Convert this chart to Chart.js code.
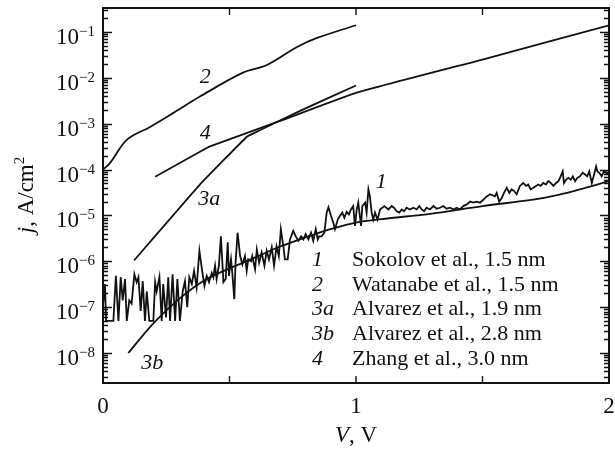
<!DOCTYPE html>
<html lang="en">
<head>
  <meta charset="UTF-8">
  <title>j(V) tunnel current</title>
  <script src="https://cdn.jsdelivr.net/npm/chart.js"></script>
  <style>
    body { margin: 0; background: #fff; }
    canvas { display: block; }
  </style>
</head>
<body>
  <canvas id="chart" width="615" height="450"></canvas>
  <script>
    // curve 1: Sokolov et al., 1.5 nm (noisy measurement)
    const sokolovV = [
      0.001, 0.008, 0.012, 0.041, 0.051, 0.061, 0.070, 0.078, 0.087, 0.094,
      0.104, 0.113, 0.124, 0.133, 0.140, 0.149, 0.157, 0.166, 0.173, 0.183,
      0.199, 0.206, 0.212, 0.223, 0.232, 0.238, 0.249, 0.258, 0.265, 0.275,
      0.285, 0.294, 0.304, 0.315, 0.324, 0.333, 0.341, 0.351, 0.360, 0.370,
      0.381, 0.393, 0.401, 0.410, 0.419, 0.430, 0.436, 0.443, 0.449, 0.458,
      0.466, 0.476, 0.485, 0.493, 0.498, 0.506, 0.511, 0.519, 0.524, 0.532,
      0.542, 0.551, 0.561, 0.568, 0.574, 0.585, 0.590, 0.601, 0.608, 0.617,
      0.627, 0.638, 0.647, 0.656, 0.667, 0.676, 0.686, 0.695, 0.703, 0.713,
      0.719, 0.730, 0.739, 0.752, 0.762, 0.772, 0.783, 0.792, 0.801, 0.812,
      0.822, 0.831, 0.841, 0.849, 0.854, 0.864, 0.875, 0.884, 0.891, 0.901,
      0.910, 0.917, 0.928, 0.937, 0.946, 0.954, 0.963, 0.972, 0.980, 0.989,
      0.996, 1.003, 1.009, 1.020, 1.025, 1.036, 1.042, 1.049, 1.055, 1.062,
      1.068, 1.075, 1.085, 1.095, 1.112, 1.128, 1.141, 1.150, 1.161, 1.171,
      1.181, 1.190, 1.200, 1.213, 1.227, 1.240, 1.250, 1.260, 1.269, 1.279,
      1.292, 1.306, 1.319, 1.332, 1.345, 1.358, 1.372, 1.385, 1.398, 1.411,
      1.424, 1.438, 1.451, 1.464, 1.477, 1.490, 1.503, 1.517, 1.530, 1.549,
      1.556, 1.566, 1.576, 1.585, 1.596, 1.606, 1.615, 1.625, 1.635, 1.648,
      1.661, 1.672, 1.681, 1.690, 1.701, 1.711, 1.721, 1.730, 1.740, 1.751,
      1.760, 1.770, 1.780, 1.791, 1.800, 1.809, 1.817, 1.822, 1.830, 1.839,
      1.849, 1.857, 1.866, 1.875, 1.885, 1.896, 1.905, 1.914, 1.922, 1.932,
      1.941, 1.949, 1.954, 1.962, 1.971, 1.980, 1.991, 1.997
    ];
    const sokolovJ = [
      1.2e-7, 3.2e-7, 5e-8, 5e-8, 4.8e-7, 5e-8, 4.5e-7, 1.4e-7, 4.1e-7, 5e-8,
      1.4e-7, 1.2e-7, 5.2e-7, 3.5e-7, 4.5e-7, 8.3e-8, 3.7e-7, 5e-8, 2.2e-7, 5e-8,
      5e-8, 3.5e-7, 2.2e-7, 4.5e-7, 5e-8, 3.2e-7, 6e-8, 4.5e-7, 5e-8, 5.2e-7,
      5e-8, 4.1e-7, 5e-8, 2.2e-7, 3.7e-7, 1e-7, 4.5e-7, 3.2e-7, 6.2e-7, 2.7e-7,
      1.7e-6, 5.6e-7, 2.9e-7, 4.8e-7, 3.5e-7, 5.6e-7, 4.5e-7, 8e-7, 4.1e-7, 8e-7,
      3.5e-6, 3.5e-7, 4.1e-7, 2.6e-6, 4.8e-7, 1.1e-6, 5.6e-7, 1.5e-7, 9.3e-7, 4.2e-6,
      1.3e-6, 8.5e-7, 1.3e-6, 6.2e-7, 1.1e-6, 1.0e-6, 1.3e-6, 6.7e-7, 1.8e-6, 9.3e-7,
      1.55e-6, 8e-7, 1.7e-6, 1.1e-6, 2e-6, 8e-7, 2.1e-6, 1.3e-6, 5e-6, 2.1e-6,
      1.1e-6, 1.1e-6, 3e-6, 4.6e-6, 3.5e-6, 2.8e-6, 3.5e-6, 3e-6, 3.9e-6, 3e-6,
      4.2e-6, 2.8e-6, 5e-6, 3e-6, 3.5e-6, 3.5e-6, 4.2e-6, 1.15e-5, 1.5e-5, 9.8e-6,
      7e-6, 5e-6, 8.1e-6, 9.8e-6, 1.15e-5, 8.9e-6, 1.2e-5, 1.05e-5, 1.35e-5, 1.6e-5,
      5.9e-6, 1.35e-5, 1.9e-5, 5.9e-6, 1.6e-5, 1.9e-5, 1.15e-5, 3.7e-5, 2.6e-5, 1.15e-5,
      8.1e-6, 1.15e-5, 8.1e-6, 1.35e-5, 1.6e-5, 1.35e-5, 1.6e-5, 1.47e-5, 1.23e-5, 1.15e-5,
      1.35e-5, 1.23e-5, 1.47e-5, 1.35e-5, 1.47e-5, 1.35e-5, 1.6e-5, 1.35e-5, 1.23e-5, 1.47e-5,
      1.35e-5, 1.6e-5, 1.4e-5, 1.47e-5, 1.6e-5, 1.4e-5, 1.47e-5, 1.35e-5, 1.47e-5, 1.35e-5,
      1.6e-5, 1.74e-5, 2.0e-5, 1.9e-5, 2.0e-5, 1.9e-5, 2.2e-5, 2.6e-5, 2.9e-5, 2.6e-5,
      3.1e-5, 2.0e-5, 2.4e-5, 3.1e-5, 4.0e-5, 3.1e-5, 3.7e-5, 3.4e-5, 2.9e-5, 4.4e-5,
      5.1e-5, 4.4e-5, 4.7e-5, 3.7e-5, 4.0e-5, 4.4e-5, 4.7e-5, 4.4e-5, 5.1e-5, 4.7e-5,
      5.6e-5, 5.1e-5, 4.4e-5, 5.1e-5, 5.6e-5, 7.1e-5, 9.1e-5, 5.1e-5, 6.0e-5, 6.6e-5,
      6.0e-5, 7.1e-5, 5.6e-5, 6.6e-5, 7.1e-5, 8.5e-5, 7.8e-5, 7.1e-5, 9.1e-5, 5.1e-5,
      7.8e-5, 1.17e-4, 9.1e-5, 8.5e-5, 7.1e-5, 9.1e-5, 8.5e-5, 7.8e-5
    ];

    // curve 2: Watanabe et al., 1.5 nm
    const watanabeV = [0, 0.028, 0.095, 0.186, 0.277, 0.383, 0.553, 0.648, 0.767, 0.846, 1.0];
    const watanabeJ = [1.0e-4, 1.4e-4, 4.5e-4, 8.5e-4, 1.7e-3, 3.9e-3, 1.3e-2, 1.9e-2, 4.7e-2, 7.4e-2, 1.4e-1];

    // curve 3a: Alvarez et al., 1.9 nm
    const alvarezAV = [0.123, 0.383, 0.569, 0.62, 0.779, 1.0];
    const alvarezAJ = [1.05e-6, 4.7e-5, 5.2e-4, 7.2e-4, 1.9e-3, 6.8e-3];

    // curve 3b: Alvarez et al., 2.8 nm
    const alvarezBV = [0.1, 0.2, 0.3, 0.4, 0.5, 0.6, 0.7, 0.8, 0.9, 1.0, 1.1, 1.3, 1.5, 1.7, 1.8, 1.9, 2.0];
    const alvarezBJ = [1.0e-8, 4.5e-8, 1.5e-7, 3.8e-7, 7e-7, 1.2e-6, 2.1e-6, 3.3e-6, 5e-6, 7e-6, 8.3e-6, 1.1e-5, 1.6e-5, 2.2e-5, 2.8e-5, 3.9e-5, 5.6e-5];

    // curve 4: Zhang et al., 3.0 nm
    const zhangV = [0.206, 0.383, 0.423, 0.7, 1.0, 1.5, 2.0];
    const zhangJ = [7e-5, 2.45e-4, 3.2e-4, 1.15e-3, 4.7e-3, 2.5e-2, 1.4e-1];

    const legendNums = ["1", "2", "3a", "3b", "4"];
    const legendText = [
      "Sokolov et al., 1.5 nm",
      "Watanabe et al., 1.5 nm",
      "Alvarez et al., 1.9 nm",
      "Alvarez et al., 2.8 nm",
      "Zhang et al., 3.0 nm"
    ];
    // curve labels placed at data coordinates [V, j]
    const curveLabels = [
      { text: "2", at: [0.404, 1.05e-2] },
      { text: "4", at: [0.404, 6.3e-4] },
      { text: "3a", at: [0.42, 2.2e-5] },
      { text: "1", at: [1.1, 5.4e-5] },
      { text: "3b", at: [0.195, 6.0e-9] }
    ];
    const xLabels = [0, 1, 2];

    const ink = "#111";
    const serif = '"Liberation Serif", "Times New Roman", serif';

    const pts = (vs, js) => vs.map((v, i) => ({ x: v, y: js[i] }));
    const line = (data, tension) => ({
      data, borderColor: ink, borderWidth: 1.8, pointRadius: 0, tension, fill: false
    });

    const decor = {
      id: "decor",
      afterDraw(chart) {
        const { ctx, chartArea: a, scales: { x, y } } = chart;
        ctx.save();
        ctx.strokeStyle = ink;
        ctx.fillStyle = ink;

        // frame
        ctx.lineWidth = 2;
        ctx.strokeRect(a.left, a.top, a.right - a.left, a.bottom - a.top);

        // inward ticks
        ctx.lineWidth = 1.4;
        ctx.beginPath();
        x.ticks.forEach(t => {
          if (t.value <= 0 || t.value >= 2) return;
          const px = x.getPixelForValue(t.value);
          ctx.moveTo(px, a.bottom); ctx.lineTo(px, a.bottom - 7);
          ctx.moveTo(px, a.top); ctx.lineTo(px, a.top + 7);
        });
        y.ticks.forEach(t => {
          const e = Math.floor(Math.log10(t.value) + 1e-9);
          const sig = t.value / Math.pow(10, e);
          if (Math.abs(sig - Math.round(sig)) > 1e-6) return;
          const len = Math.round(sig) === 1 ? 9 : 5;
          const py = Math.round(y.getPixelForValue(t.value)) + 0.5;
          ctx.moveTo(a.left, py); ctx.lineTo(a.left + len, py);
          ctx.moveTo(a.right, py); ctx.lineTo(a.right - len, py);
        });
        ctx.stroke();

        // y tick labels 10^-n
        ctx.textBaseline = "alphabetic";
        for (let n = 1; n <= 8; n++) {
          const py = y.getPixelForValue(Math.pow(10, -n));
          ctx.font = "15px " + serif;
          const sup = "\u2212" + n;
          const wSup = ctx.measureText(sup).width;
          ctx.textAlign = "left";
          ctx.fillText(sup, a.left - 8 - wSup, py + 4);
          ctx.font = "23px " + serif;
          ctx.textAlign = "right";
          ctx.fillText("10", a.left - 8 - wSup, py + 12);
        }

        // x tick labels
        ctx.font = "23px " + serif;
        ctx.textAlign = "center";
        xLabels.forEach(v => ctx.fillText(String(v), x.getPixelForValue(v), a.bottom + 30));

        // x title "V, V"
        const cx = (a.left + a.right) / 2;
        ctx.font = "italic 23px " + serif;
        const w1 = ctx.measureText("V").width;
        ctx.font = "23px " + serif;
        const w2 = ctx.measureText(", V").width;
        let sx = cx - (w1 + w2) / 2;
        ctx.textAlign = "left";
        ctx.font = "italic 23px " + serif;
        ctx.fillText("V", sx, 442);
        ctx.font = "23px " + serif;
        ctx.fillText(", V", sx + w1, 442);

        // y title "j, A/cm2"
        ctx.save();
        ctx.translate(33, 195);
        ctx.rotate(-Math.PI / 2);
        ctx.font = "italic 23px " + serif;
        const wj = ctx.measureText("j").width;
        ctx.font = "23px " + serif;
        const wu = ctx.measureText(", A/cm").width;
        ctx.font = "15px " + serif;
        const w2s = ctx.measureText("2").width;
        let tx = -(wj + wu + w2s) / 2;
        ctx.font = "italic 23px " + serif;
        ctx.fillText("j", tx, 0);
        ctx.font = "23px " + serif;
        ctx.fillText(", A/cm", tx + wj, 0);
        ctx.font = "15px " + serif;
        ctx.fillText("2", tx + wj + wu, -9);
        ctx.restore();

        // curve labels
        ctx.font = "italic 22px " + serif;
        ctx.textAlign = "center";
        ctx.textBaseline = "middle";
        curveLabels.forEach(l => {
          ctx.fillText(l.text, x.getPixelForValue(l.at[0]), y.getPixelForValue(l.at[1]));
        });

        // legend block
        ctx.textBaseline = "alphabetic";
        ctx.textAlign = "left";
        legendNums.forEach((num, i) => {
          const by = a.bottom - 117 + i * 24.7;
          ctx.font = "italic 22px " + serif;
          ctx.fillText(num, a.left + 209, by);
          ctx.font = "22px " + serif;
          ctx.fillText(legendText[i], a.left + 249, by);
        });

        ctx.restore();
      }
    };

    new Chart(document.getElementById("chart"), {
      type: "line",
      data: {
        datasets: [
          line(pts(sokolovV, sokolovJ), 0),
          line(pts(watanabeV, watanabeJ), 0.35),
          line(pts(alvarezAV, alvarezAJ), 0.1),
          line(pts(alvarezBV, alvarezBJ), 0.35),
          line(pts(zhangV, zhangJ), 0.1)
        ]
      },
      options: {
        responsive: false,
        animation: false,
        devicePixelRatio: 1,
        layout: { padding: { left: 103, top: 8, right: 6, bottom: 67 } },
        plugins: { legend: { display: false }, tooltip: { enabled: false } },
        scales: {
          x: {
            type: "linear", min: 0, max: 2,
            ticks: { display: false, stepSize: 0.5 },
            grid: { display: false, drawTicks: false },
            border: { display: false }
          },
          y: {
            type: "logarithmic", min: 2.22e-9, max: 0.333,
            ticks: { display: false },
            grid: { display: false, drawTicks: false },
            border: { display: false }
          }
        }
      },
      plugins: [decor]
    });
  </script>
</body>
</html>
